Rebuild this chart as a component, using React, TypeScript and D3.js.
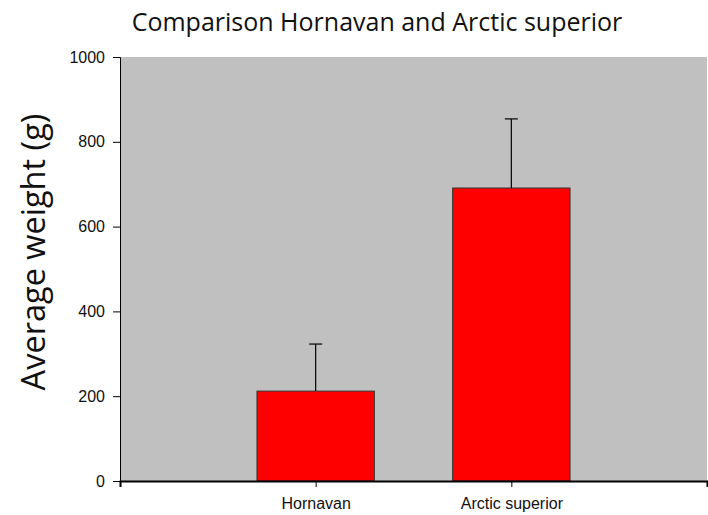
import { useEffect, useRef } from 'react';
import * as d3 from 'd3';

// chart data
const categories = ['Hornavan', 'Arctic superior'];
const meanWeight = [212, 691];
const errorUp = [111, 163];
const yTicks = [0, 200, 400, 600, 800, 1000];

const W = 708;
const H = 515;

export default function App() {
  const svgRef = useRef<SVGSVGElement>(null);

  useEffect(() => {
    if (!svgRef.current) return;
    const svg = d3.select(svgRef.current);
    svg.selectAll('*').remove();

    const M = { top: 57, right: 1, bottom: 34, left: 120 };
    const iW = W - M.left - M.right;
    const iH = H - M.top - M.bottom;

    const root = svg.append('g').attr('transform', `translate(${M.left},${M.top})`);

    // slot 0 and slot 3 are empty; categories sit on slots 1 and 2
    const x = d3.scaleLinear().domain([0, categories.length + 1]).range([0, iW]);
    const y = d3.scaleLinear().domain([0, 1000]).range([iH, 0]);
    const step = x(1) - x(0);
    const barW = step * 0.6;

    // plot background
    root.append('rect')
      .attr('x', 0).attr('y', 0).attr('width', iW).attr('height', iH)
      .attr('fill', '#c0c0c0');

    // bars
    root.selectAll('rect.bar').data(categories).enter().append('rect')
      .attr('class', 'bar')
      .attr('x', (_, i) => x(i + 1) - barW / 2)
      .attr('y', (_, i) => y(meanWeight[i]))
      .attr('width', barW)
      .attr('height', (_, i) => y(0) - y(meanWeight[i]))
      .attr('fill', '#ff0000')
      .attr('stroke', '#333')
      .attr('stroke-width', 1);

    // error bars (upper only)
    categories.forEach((_, i) => {
      const cx = x(i + 1);
      root.append('line')
        .attr('x1', cx).attr('x2', cx)
        .attr('y1', y(meanWeight[i])).attr('y2', y(meanWeight[i] + errorUp[i]))
        .attr('stroke', '#000').attr('stroke-width', 1.2);
      root.append('line')
        .attr('x1', cx - 6.5).attr('x2', cx + 6.5)
        .attr('y1', y(meanWeight[i] + errorUp[i])).attr('y2', y(meanWeight[i] + errorUp[i]))
        .attr('stroke', '#000').attr('stroke-width', 1.2);
    });

    // y axis
    root.append('g')
      .call(d3.axisLeft(y).tickValues(yTicks).tickSize(7).tickPadding(8).tickFormat(d3.format('d')))
      .call(g => g.select('.domain').attr('stroke', '#000'))
      .call(g => g.selectAll('.tick line').attr('stroke', '#000'))
      .call(g => g.selectAll('.tick text')
        .attr('fill', '#111').attr('font-size', 16).attr('font-family', 'Liberation Sans, Arial, sans-serif'));

    // x axis
    root.append('g')
      .attr('transform', `translate(0,${iH})`)
      .call(d3.axisBottom(x).tickValues(d3.range(categories.length + 2)).tickSize(6).tickPadding(11)
        .tickFormat(d => categories[+d - 1] ?? ''))
      .call(g => g.select('.domain').attr('stroke', '#000').attr('stroke-width', 2))
      .call(g => g.selectAll('.tick line').attr('stroke', '#000'))
      .call(g => g.selectAll('.tick text')
        .attr('fill', '#111').attr('font-size', 16).attr('font-family', 'Liberation Sans, Arial, sans-serif'));

    // title
    svg.append('text')
      .attr('x', 377).attr('y', 31)
      .attr('text-anchor', 'middle')
      .attr('font-family', 'Open Sans, sans-serif').attr('font-size', 25)
      .attr('fill', '#111')
      .text('Comparison Hornavan and Arctic superior');

    // y axis label
    svg.append('text')
      .attr('transform', 'translate(45,252) rotate(-90)')
      .attr('text-anchor', 'middle')
      .attr('font-family', 'Open Sans, sans-serif').attr('font-size', 32.5)
      .attr('fill', '#111')
      .text('Average weight (g)');
  }, []);

  return (
    <svg ref={svgRef} width={W} height={H}
      style={{ position: 'absolute', left: 0, top: 0, background: '#fff' }} />
  );
}
